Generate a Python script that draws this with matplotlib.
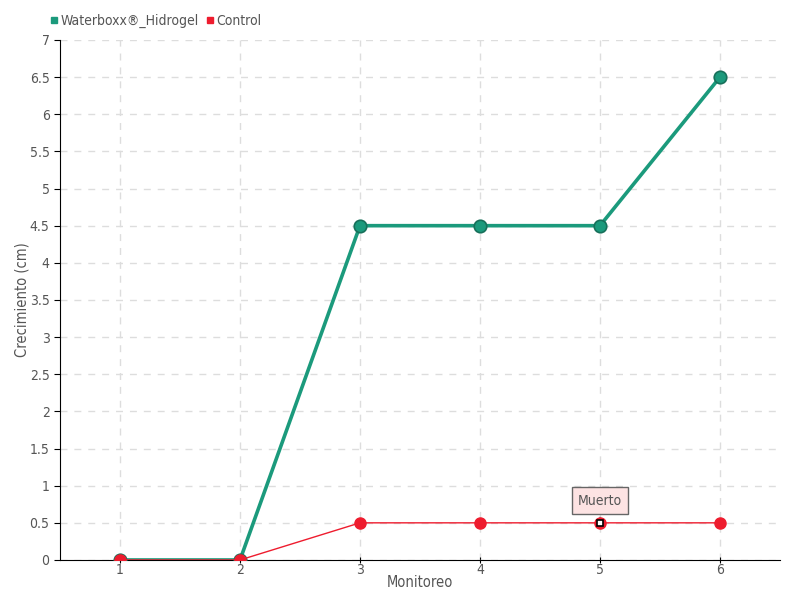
import matplotlib
matplotlib.use('agg')
import matplotlib.pyplot as plt
from matplotlib.lines import Line2D

plt.rcParams['font.family'] = ['DejaVu Sans']
plt.rcParams['font.stretch'] = 'condensed'

monitoreo = [1, 2, 3, 4, 5, 6]
waterboxx = [0, 0, 4.5, 4.5, 4.5, 6.5]
control = [0, 0, 0.5, 0.5, 0.5, 0.5]
yticks = [0, 0.5, 1, 1.5, 2, 2.5, 3, 3.5, 4, 4.5, 5, 5.5, 6, 6.5, 7]

green = '#1b9a7c'
red = '#ee1c2e'
txt = '#555555'

fig = plt.figure(figsize=(8, 6), dpi=100)
ax = fig.add_axes([0.075, 0.0667, 0.9, 0.8667])

ax.plot(monitoreo, waterboxx, color=green, lw=2.6, marker='o', ms=9,
        mfc=green, mec='#17705a', mew=1.2, zorder=3)
ax.plot(monitoreo, control, color=red, lw=1, marker='o', ms=8,
        mfc=red, mec=red, zorder=4)
# dead point
ax.plot(monitoreo[4], control[4], marker='s', ms=5, mfc='white',
        mec='black', mew=1.2, zorder=5, linestyle='none')
ax.annotate('Muerto', xy=(monitoreo[4], control[4]), xytext=(0, 16),
            textcoords='offset points', ha='center', va='center',
            fontsize=10, color=txt,
            bbox=dict(boxstyle='square,pad=0.45', fc='#fde3e3', ec='#666666', lw=1),
            arrowprops=dict(arrowstyle='-', color='#666666', lw=0.8))

ax.set_xlim(0.5, 6.5)
ax.set_ylim(0, 7)
ax.set_xticks(monitoreo)
ax.set_yticks(yticks)
ax.set_yticklabels([('%g' % v) for v in yticks])
ax.grid(True, color='#dddddd', linestyle=(0, (5, 5)), lw=1)
ax.set_axisbelow(True)
for s in ['top', 'right']:
    ax.spines[s].set_visible(False)
ax.spines['left'].set_color('black')
ax.spines['bottom'].set_color('black')
ax.tick_params(axis='both', colors='black', labelcolor=txt, labelsize=10, length=4)
ax.tick_params(axis='x', direction='inout', pad=0)
ax.set_xlabel('Monitoreo', color=txt, fontsize=10.5, labelpad=-1)
ax.set_ylabel('Crecimiento (cm)', color=txt, fontsize=10.5)
ax.yaxis.set_label_coords(-0.043, 0.5)

handles = [Line2D([], [], color=green, marker='s', ls='none', ms=4),
           Line2D([], [], color=red, marker='s', ls='none', ms=4)]
fig.legend(handles, ['Waterboxx®_Hidrogel', 'Control'], loc='upper left',
           bbox_to_anchor=(0.045, 0.998), ncol=2, frameon=False,
           fontsize=10, labelcolor=txt, handletextpad=0.05,
           columnspacing=0.4, handlelength=0.8)

fig.savefig('out.png', dpi=100)
